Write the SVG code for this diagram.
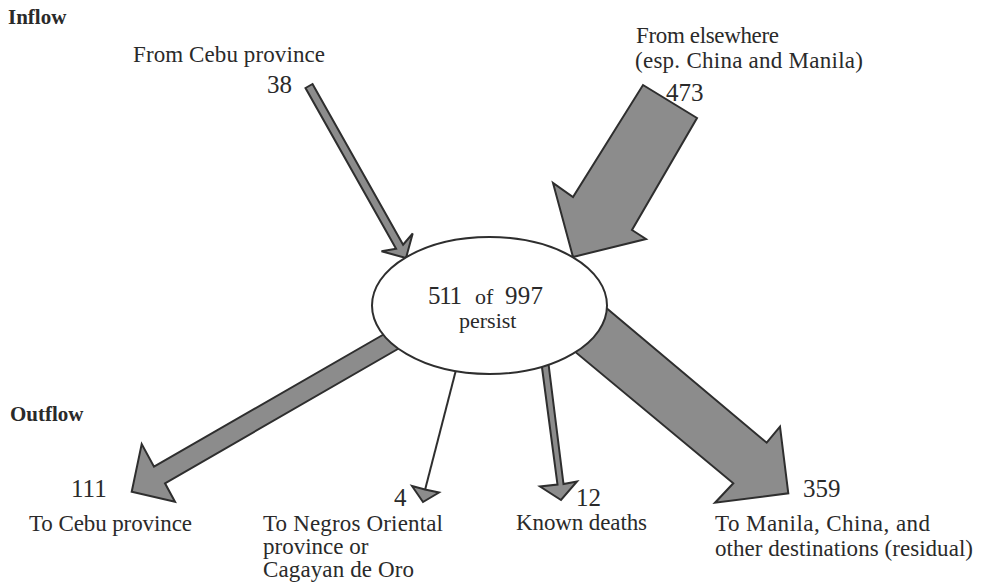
<svg xmlns="http://www.w3.org/2000/svg" width="983" height="585" viewBox="0 0 983 585">
<style>
text{font-family:"Liberation Serif","Times New Roman",serif;fill:#2a2a2a}
.lbl{font-size:23px}
.num{font-size:25px}
.hd{font-size:21px;font-weight:bold}
.arr{fill:#8c8c8c;stroke:#2e2e2e;stroke-width:2;stroke-linejoin:miter}
.ln{fill:none;stroke:#2e2e2e;stroke-width:2}
</style>
<rect width="983" height="585" fill="#ffffff"/>
<g id="connectors">
<polygon class="arr" points="312.5,84 403.1,244.7 412.7,233.5 406,258 381.5,251.3 396.1,248.7 305.5,88"/>
<polygon class="arr" points="643,85 697,118 632,230 646,239 573,257 553,183 573,197"/>
<polygon class="arr" points="400,325 154,466.7 141.7,444 131.7,491.7 175,501.7 165,483.3 410,342"/>
<line class="ln" x1="457" y1="366" x2="425" y2="490"/>
<polygon class="arr" points="412,486 425,489.5 439,492.5 423,502"/>
<polygon class="arr" points="541,360 548,360 563.5,484 577,481.5 561,500 540,486.5 557.5,484.5"/>
<polygon class="arr" points="590,294.3 766.7,442.7 780,426.7 788.3,493.3 715,502.7 733.3,483.3 561.4,340.4"/>
</g>
<g id="center">
<ellipse cx="489.5" cy="305.5" rx="117.5" ry="68.5" fill="#ffffff" stroke="#2e2e2e" stroke-width="2"/>
<text x="428" y="304" style="font-size:25px" textLength="34">511</text>
<text x="475" y="304" style="font-size:22px">of</text>
<text x="505" y="304" style="font-size:25px" textLength="38">997</text>
<text x="459" y="328" class="lbl" style="font-size:22px">persist</text>
</g>
<g id="heading-inflow"><text x="8" y="24" class="hd">Inflow</text></g>
<g id="heading-outflow"><text x="10" y="421" class="hd">Outflow</text></g>
<g id="from-cebu">
<text x="133" y="62" class="lbl" textLength="192">From Cebu province</text>
<text x="267" y="93" class="num">38</text>
</g>
<g id="from-elsewhere">
<text x="636" y="43" class="lbl" textLength="143">From elsewhere</text>
<text x="635" y="68" class="lbl" textLength="228">(esp. China and Manila)</text>
<text x="666" y="101" class="num">473</text>
</g>
<g id="to-cebu">
<text x="71" y="497" class="num">111</text>
<text x="29" y="531" class="lbl" textLength="163">To Cebu province</text>
</g>
<g id="to-negros">
<text x="394" y="506" class="num">4</text>
<text x="263" y="531" class="lbl" textLength="180">To Negros Oriental</text>
<text x="263" y="554" class="lbl">province or</text>
<text x="263" y="577" class="lbl" textLength="151">Cagayan de Oro</text>
</g>
<g id="deaths">
<text x="576" y="506" class="num">12</text>
<text x="516" y="530" class="lbl" textLength="131">Known deaths</text>
</g>
<g id="to-manila">
<text x="803" y="497" class="num">359</text>
<text x="715" y="531" class="lbl" textLength="215">To Manila, China, and</text>
<text x="715" y="556" class="lbl" textLength="258">other destinations (residual)</text>
</g>
</svg>
